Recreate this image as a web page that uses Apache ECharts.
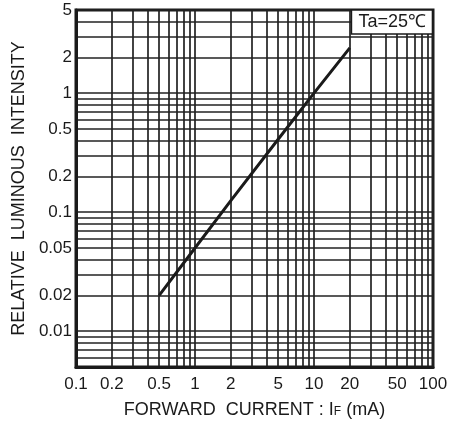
<!DOCTYPE html>
<html>
<head>
<meta charset="utf-8">
<script src="https://cdn.jsdelivr.net/npm/echarts@6/dist/echarts.min.js"></script>
<style>
  html, body { margin: 0; padding: 0; background: #fff; }
  #chart { width: 466px; height: 432px; }
</style>
</head>
<body>
<div id="chart"></div>
<script>
var dom = document.getElementById("chart");
var myChart = echarts.init(dom);

// forward current (mA) vs relative luminous intensity
var currentMA = [0.5, 1, 2, 5, 10, 20];
var intensity = [0.02, 0.05, 0.125, 0.41, 1.0, 2.4];

// grid lines and labels
var xGrid = [0.1, 0.2, 0.3, 0.4, 0.5, 0.6, 0.7, 0.8, 0.9, 1, 2, 3, 4, 5, 6, 7, 8, 9, 10, 20, 30, 40, 50, 60, 70, 80, 90, 100];
var xLabels = [0.1, 0.2, 0.5, 1, 2, 5, 10, 20, 50, 100];
var yGrid = [0.005, 0.006, 0.007, 0.008, 0.009, 0.01, 0.02, 0.03, 0.04, 0.05, 0.06, 0.07, 0.08, 0.09, 0.1, 0.2, 0.3, 0.4, 0.5, 0.6, 0.7, 0.8, 0.9, 1, 2, 3, 4, 5];
var yLabels = [0.01, 0.02, 0.05, 0.1, 0.2, 0.5, 1, 2, 5];

var fontName = '"Liberation Sans", Arial, Helvetica, sans-serif';

var option = {
    animation: false,
    backgroundColor: '#fff',
    title: {
        text: 'Ta=25℃',
        right: 33,
        top: 10,
        padding: [3, 7, 3, 7],
        backgroundColor: '#fff',
        borderColor: '#1a1a1a',
        borderWidth: 1.5,
        textStyle: {
            fontFamily: fontName,
            fontSize: 18,
            fontWeight: 'normal',
            color: '#1a1a1a'
        }
    },
    grid: {
        left: 76,
        right: 33,
        top: 10,
        bottom: 65,
        show: true,
        borderColor: '#1a1a1a',
        borderWidth: 3,
        backgroundColor: '#fff'
    },
    xAxis: {
        type: 'log',
        logBase: 10,
        min: 0.1,
        max: 100,
        name: 'FORWARD  CURRENT : I{f|F} (mA)',
        nameLocation: 'middle',
        nameGap: 34,
        nameTextStyle: {
            fontFamily: fontName,
            fontSize: 18,
            color: '#1a1a1a',
            rich: {
                f: { fontFamily: fontName, fontSize: 12, color: '#1a1a1a', padding: [4, 0, 0, 0] }
            }
        },
        axisLine: { show: true, lineStyle: { color: '#1a1a1a', width: 3 } },
        axisTick: { show: false, customValues: xGrid },
        axisLabel: {
            customValues: xLabels,
            fontFamily: fontName,
            fontSize: 17,
            color: '#1a1a1a',
            margin: 9,
            formatter: function (v) { return String(+v.toPrecision(3)); }
        },
        splitLine: { show: true, lineStyle: { color: '#222', width: 1.7 } }
    },
    yAxis: {
        type: 'log',
        logBase: 10,
        min: 0.005,
        max: 5,
        name: 'RELATIVE  LUMINOUS  INTENSITY',
        nameLocation: 'middle',
        nameGap: 38,
        nameTextStyle: {
            fontFamily: fontName,
            fontSize: 18,
            color: '#1a1a1a'
        },
        axisLine: { show: true, lineStyle: { color: '#1a1a1a', width: 3 } },
        axisTick: { show: false, customValues: yGrid },
        axisLabel: {
            customValues: yLabels,
            fontFamily: fontName,
            fontSize: 17,
            color: '#1a1a1a',
            margin: 4,
            formatter: function (v) { return String(+v.toPrecision(3)); }
        },
        splitLine: { show: true, lineStyle: { color: '#222', width: 1.7 } }
    },
    series: [
        {
            type: 'line',
            data: currentMA.map(function (x, i) { return [x, intensity[i]]; }),
            showSymbol: false,
            symbol: 'none',
            lineStyle: { color: '#1a1a1a', width: 3 },
            z: 5
        }
    ]
};
myChart.setOption(option, true);
</script>
</body>
</html>
